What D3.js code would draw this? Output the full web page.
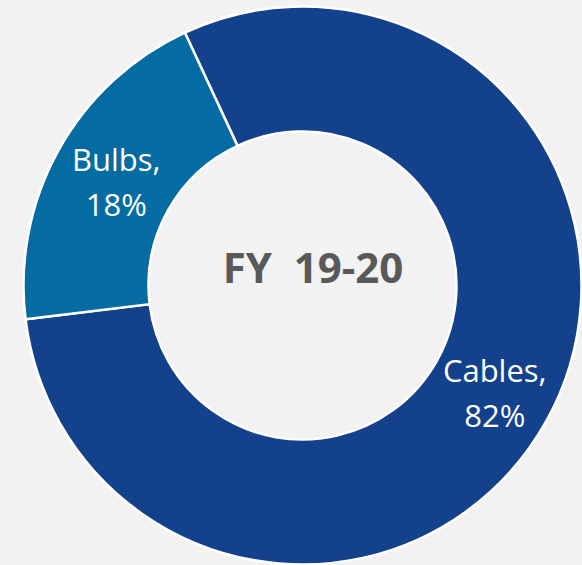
<!DOCTYPE html>
<html>
<head>
<meta charset="utf-8">
<script src="https://cdn.jsdelivr.net/npm/d3@7"></script>
<style>
  body { margin: 0; background: #f2f2f2; }
  svg { display: block; }
</style>
</head>
<body>
<div id="chart"></div>
<script>
// chart data
var categories = ["Cables", "Bulbs"];
var sliceValues = [80, 20];          // shares
var pctLabels = ["82%", "18%"];      // labels as printed on the chart
var sliceColors = ["#14418b", "#046ba3"];
var centerTitle = "FY  19-20";

// set the dimensions
var width = 582,
  height = 565,
  cx = 302.5,
  cy = 285.5,
  outerR = 279,
  innerR = 154;

var svg = d3.select("#chart")
  .append("svg")
  .attr("width", width)
  .attr("height", height);

svg.append("rect")
  .attr("width", width)
  .attr("height", height)
  .attr("fill", "#f2f2f2");

var g = svg.append("g")
  .attr("transform", "translate(" + cx + "," + cy + ")");

var start = -24.95 * Math.PI / 180;

var pie = d3.pie()
  .sort(null)
  .startAngle(start)
  .endAngle(start + 2 * Math.PI)
  .value(function (d) { return d; });

var arc = d3.arc()
  .innerRadius(innerR)
  .outerRadius(outerR);

var arcs = pie(sliceValues);

// slices
g.selectAll("path")
  .data(arcs)
  .enter()
  .append("path")
  .attr("d", arc)
  .attr("fill", function (d, i) { return sliceColors[i]; })
  .attr("stroke", "#ffffff")
  .attr("stroke-width", 2.5)
  .attr("stroke-linejoin", "miter");

// slice labels (two lines each)
var labels = g.selectAll(".lbl")
  .data(arcs)
  .enter()
  .append("text")
  .attr("class", "lbl")
  .attr("text-anchor", "middle")
  .attr("fill", "#ffffff")
  .style("font-family", "'Open Sans', sans-serif")
  .style("font-size", "31px")
  .attr("transform", function (d) {
    var c = arc.centroid(d);
    return "translate(" + (c[0] + 3) + "," + c[1] + ")";
  });

labels.append("tspan")
  .attr("x", 0)
  .attr("y", -9)
  .text(function (d, i) { return categories[i] + ","; });

labels.append("tspan")
  .attr("x", 0)
  .attr("y", 36)
  .text(function (d, i) { return pctLabels[i]; });

// centre title
g.append("text")
  .attr("x", 10.5)
  .attr("y", -2.5)
  .attr("text-anchor", "middle")
  .attr("fill", "#595959")
  .style("font-family", "'Open Sans', sans-serif")
  .style("font-weight", "bold")
  .style("font-size", "42px")
  .style("white-space", "pre")
  .text(centerTitle);
</script>
</body>
</html>
